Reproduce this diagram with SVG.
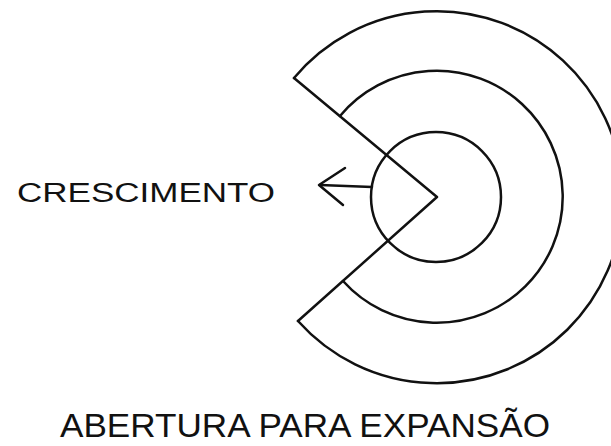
<svg xmlns="http://www.w3.org/2000/svg" width="611" height="446" viewBox="0 0 611 446">
<style>
.ln{fill:none;stroke:#111;stroke-width:2.5;stroke-linecap:round;stroke-linejoin:round}
.lbl{font-family:"Liberation Sans",Arial,sans-serif;fill:#111}
</style>
<rect width="611" height="446" fill="#fff"/>
<g id="outer-ring">
<path class="ln" d="M294,78 A186,186 0 1 1 298,321"/>
</g>
<g id="middle-ring">
<path class="ln" d="M340,116 A126,126 0 1 1 343,281"/>
</g>
<g id="inner-circle">
<circle class="ln" cx="436" cy="197" r="65"/>
</g>
<g id="opening">
<polyline class="ln" points="294,78 437,197 298,321"/>
</g>
<g id="connectors">
<line class="ln" x1="372" y1="187" x2="320" y2="185"/>
<polyline class="ln" points="345,168 319,185 343,205"/>
</g>
<g id="label-crescimento">
<text class="lbl" x="17" y="202" font-size="27" textLength="258" lengthAdjust="spacingAndGlyphs">CRESCIMENTO</text>
</g>
<g id="label-abertura">
<text class="lbl" x="60" y="437" font-size="33" textLength="490" lengthAdjust="spacingAndGlyphs">ABERTURA PARA EXPANSÃO</text>
</g>
</svg>
